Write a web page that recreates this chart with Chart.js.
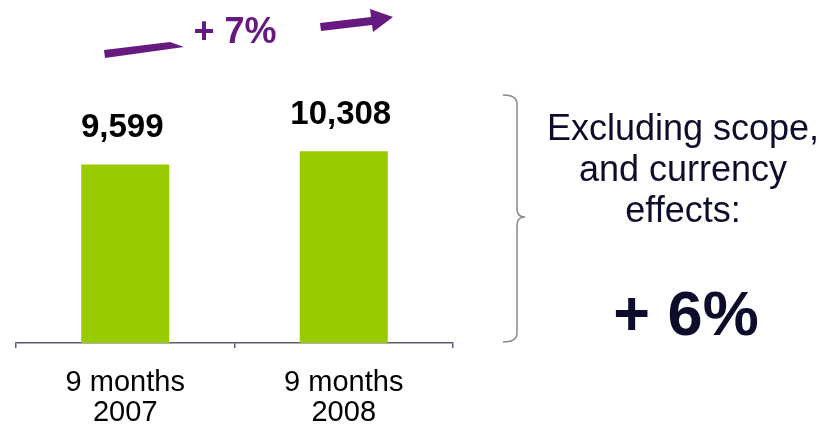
<!DOCTYPE html>
<html>
<head>
<meta charset="utf-8">
<script src="https://cdn.jsdelivr.net/npm/chart.js@4"></script>
<style>
html,body{margin:0;padding:0;background:#fff;}
#wrap{position:relative;width:829px;height:427px;}
</style>
</head>
<body>
<div id="wrap"><canvas id="c" width="829" height="427"></canvas></div>
<script>
const categories = [["9 months", "2007"], ["9 months", "2008"]];
const revenue = [9599, 10308];
const valueLabels = ["9,599", "10,308"];
const growthLabel = "+ 7%";
const sideNote = ["Excluding scope,", "and currency", "effects:"];
const sideGrowth = "+ 6%";

const FONT = "'Liberation Sans', Arial, Helvetica, sans-serif";
const PURPLE = "#661a7f";
const NAVY = "#0d0d2b";

const decor = {
  id: 'decor',
  afterDatasetsDraw(chart) {
    const ctx = chart.ctx;
    const meta = chart.getDatasetMeta(0);
    ctx.save();
    // value labels
    ctx.fillStyle = '#000';
    ctx.font = "bold 33px " + FONT;
    ctx.textAlign = 'center';
    ctx.textBaseline = 'alphabetic';
    meta.data.forEach((bar, i) => {
      ctx.fillText(valueLabels[i], bar.x - 3, bar.y - 27);
    });
    // growth arrows
    ctx.fillStyle = PURPLE;
    ctx.beginPath();
    ctx.moveTo(104, 50); ctx.lineTo(170, 42); ctx.lineTo(184, 47); ctx.lineTo(105, 58);
    ctx.closePath(); ctx.fill();
    ctx.beginPath();
    ctx.moveTo(320, 23); ctx.lineTo(371, 17); ctx.lineTo(370, 9); ctx.lineTo(393, 17);
    ctx.lineTo(373, 32); ctx.lineTo(372, 25); ctx.lineTo(321, 31);
    ctx.closePath(); ctx.fill();
    ctx.font = "bold 36px " + FONT;
    ctx.fillText(growthLabel, 235, 43);
    // brace
    ctx.strokeStyle = '#8a8a8a';
    ctx.lineWidth = 1.5;
    ctx.beginPath();
    ctx.moveTo(503, 95);
    ctx.quadraticCurveTo(517, 95, 517, 104);
    ctx.lineTo(517, 209);
    ctx.quadraticCurveTo(517, 217, 525, 217);
    ctx.quadraticCurveTo(517, 217, 517, 225);
    ctx.lineTo(517, 333);
    ctx.quadraticCurveTo(517, 342, 503, 342);
    ctx.stroke();
    // side text
    ctx.fillStyle = NAVY;
    ctx.font = "36px " + FONT;
    const ys = [140, 181, 222];
    sideNote.forEach((t, i) => ctx.fillText(t, 683, ys[i]));
    ctx.font = "bold 63px " + FONT;
    ctx.fillText(sideGrowth, 686, 335);
    ctx.restore();
  }
};

new Chart(document.getElementById('c'), {
  type: 'bar',
  data: {
    labels: categories,
    datasets: [{
      data: revenue,
      backgroundColor: '#99cc00',
      borderWidth: 0,
      barPercentage: 0.403,
      categoryPercentage: 1.0
    }]
  },
  options: {
    responsive: false,
    animation: false,
    devicePixelRatio: 1,
    layout: { padding: { left: 16, right: 376, top: 64, bottom: 0 } },
    plugins: { legend: { display: false }, tooltip: { enabled: false } },
    scales: {
      y: { display: false, min: 0, max: 15000 },
      x: {
        afterFit(scale) { scale.height = 84; },
        border: { display: true, color: '#5a5a70', width: 1.5 },
        grid: { display: true, drawOnChartArea: false, drawTicks: true, tickLength: 5, color: '#5a5a70', lineWidth: 1.5 },
        ticks: { color: '#000', font: { family: FONT, size: 29, lineHeight: 1.04 }, padding: 20, maxRotation: 0 }
      }
    }
  },
  plugins: [decor]
});
</script>
</body>
</html>
